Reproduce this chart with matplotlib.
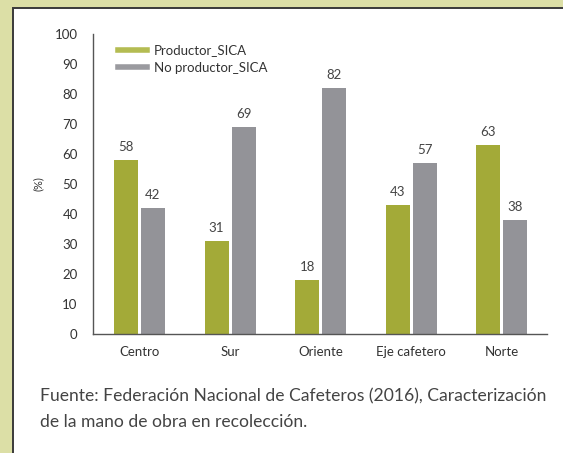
import numpy as np
import matplotlib
matplotlib.use('Agg')
import matplotlib.pyplot as plt
from matplotlib.lines import Line2D
from matplotlib.patches import Rectangle

# datos
regiones = ['Centro', 'Sur', 'Oriente', 'Eje cafetero', 'Norte']
productor_sica = [58, 31, 18, 43, 63]
no_productor_sica = [42, 69, 82, 57, 38]
series = ['Productor_SICA', 'No productor_SICA']
y_ticks = [0, 10, 20, 30, 40, 50, 60, 70, 80, 90, 100]
fuente = ('Fuente: Federación Nacional de Cafeteros (2016), Caracterización\n'
          'de la mano de obra en recolección.')

verde = '#a3aa38'
gris = '#939398'

plt.rcParams['font.family'] = ['Lato', 'DejaVu Sans']

fig = plt.figure(figsize=(5.63, 4.53), dpi=100, facecolor='#dcdfa6')

# panel blanco con borde
panel = Rectangle((13 / 563, -0.1), 1.1, 1 - 8.5 / 453 + 0.1,
                  transform=fig.transFigure, facecolor='white',
                  edgecolor='#3a3a3a', linewidth=1.4, zorder=-5)
fig.patches.append(panel)

ax = fig.add_axes([93 / 563, 119 / 453, 454 / 563, 300 / 453])
ax.set_facecolor('none')
ax.set_zorder(2)

x = np.arange(len(regiones))
w = 0.265
off = 0.149
b1 = ax.bar(x - off, productor_sica, w, color=verde)
b2 = ax.bar(x + off, no_productor_sica, w, color=gris)

for bars in (b1, b2):
    ax.bar_label(bars, padding=5, fontsize=9.5, color='#444444')

ax.set_xlim(-0.513, len(regiones) - 0.503)
ax.set_ylim(0, 100)
ax.set_yticks(y_ticks)
ax.set_xticks(x)
ax.set_xticklabels(regiones)
ax.tick_params(axis='both', length=0, labelsize=9.5, colors='#333333')
ax.tick_params(axis='y', pad=11)
ax.tick_params(axis='x', pad=9)

for s in ['top', 'right']:
    ax.spines[s].set_visible(False)
for s in ['left', 'bottom']:
    ax.spines[s].set_color('#555555')
    ax.spines[s].set_linewidth(1)

ax.set_ylabel('(%)', fontsize=8, color='#333333')
ax.yaxis.set_label_coords(-0.108, 0.5)

handles = [Line2D([], [], color='#b4bc52', linewidth=4),
           Line2D([], [], color='#9a9a9f', linewidth=4)]
ax.legend(handles, series, loc='upper left', bbox_to_anchor=(0.028, 1.005),
          frameon=False, fontsize=9.5, handlelength=2.2, handletextpad=0.55,
          labelspacing=0.4, labelcolor='#333333')

fig.text(40 / 563, 1 - 388 / 453, fuente, fontsize=12.6, color='#444444',
         va='top', ha='left', linespacing=1.75)

fig.savefig('out.png', dpi=100, facecolor=fig.get_facecolor())
